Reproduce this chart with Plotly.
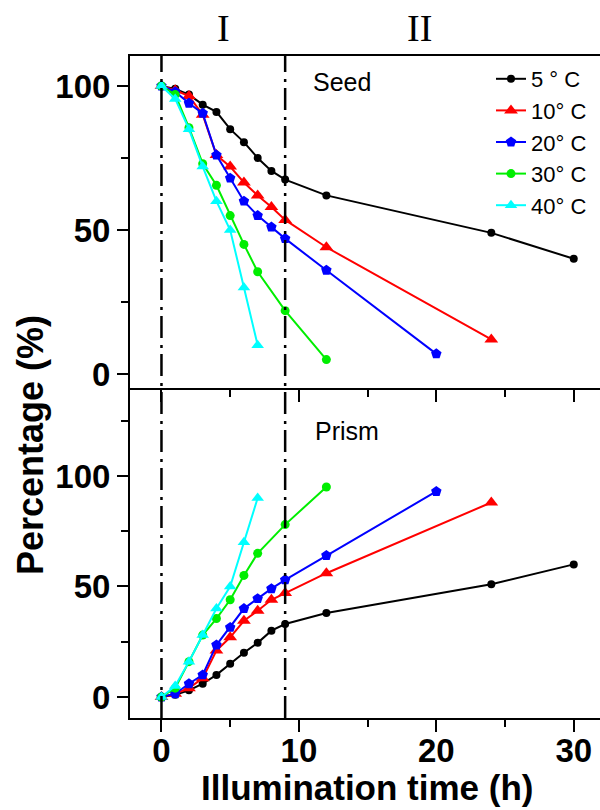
import plotly.graph_objects as go

# ---------------- data ----------------
series_names = ["5 ° C", "10° C", "20° C", "30° C", "40° C"]
colors = ["#000000", "#ff0000", "#0000ff", "#00ee00", "#00ffff"]
symbols = ["circle", "triangle-up", "pentagon", "circle", "triangle-up"]
marker_sizes = [8, 12, 11, 9, 11]

t_5 = [0, 1, 2, 3, 4, 5, 6, 7, 8, 9, 12, 24, 30]
t_10 = [0, 1, 2, 3, 4, 5, 6, 7, 8, 9, 12, 24]
t_20 = [0, 1, 2, 3, 4, 5, 6, 7, 8, 9, 12, 20]
t_30 = [0, 1, 2, 3, 4, 5, 6, 7, 9, 12]
t_40 = [0, 1, 2, 3, 4, 5, 6, 7]

seed_5 = [100, 99, 97, 93.5, 91, 85, 80.5, 75, 70.5, 67.5, 62, 49, 40]
seed_10 = [100, 98.5, 96.5, 90, 76, 72, 66.5, 62, 58, 53.5, 44, 12]
seed_20 = [100, 98, 94, 90.5, 76, 68, 60, 55, 51, 47, 36, 7]
seed_30 = [100, 97, 85.5, 73, 65.5, 55, 45, 35.5, 22, 5]
seed_40 = [100, 95.5, 85, 72, 60, 50, 30, 10]

prism_5 = [0, 1, 3, 6, 10, 15, 20, 24.5, 30, 33, 38, 51, 60]
prism_10 = [0, 1.5, 4, 8.5, 21, 27, 34.5, 39, 44, 47, 56, 88]
prism_20 = [0, 1.5, 6, 10, 23.5, 31.5, 40, 44.5, 49, 53, 64, 93]
prism_30 = [0, 4, 16, 28, 35.5, 44, 55, 65, 78, 95]
prism_40 = [0, 5, 16, 28, 40, 50, 70, 90]

times = [t_5, t_10, t_20, t_30, t_40]
seed = [seed_5, seed_10, seed_20, seed_30, seed_40]
prism = [prism_5, prism_10, prism_20, prism_30, prism_40]

phase_bounds = [0, 9]
phase_labels = ["I", "II"]
x_ticks = [0, 10, 20, 30]
y_ticks = [0, 50, 100]

# ---------------- figure ----------------
W, H = 600, 810
ml, mr, mt, mb = 130, 0, 56, 92
plot_w = W - ml - mr
plot_h = H - mt - mb
split = (718 - 388) / plot_h

fig = go.Figure()
for i in range(5):
    fig.add_trace(go.Scatter(
        x=times[i], y=seed[i], name=series_names[i], mode="lines+markers",
        line=dict(color=colors[i], width=2),
        marker=dict(symbol=symbols[i], size=marker_sizes[i], color=colors[i]),
        xaxis="x2", yaxis="y2", legendgroup=f"g{i}", showlegend=True))
for i in range(5):
    fig.add_trace(go.Scatter(
        x=times[i], y=prism[i], name=series_names[i], mode="lines+markers",
        line=dict(color=colors[i], width=2),
        marker=dict(symbol=symbols[i], size=marker_sizes[i], color=colors[i]),
        xaxis="x", yaxis="y", legendgroup=f"g{i}", showlegend=False))

tickfont = dict(family="Arial, Liberation Sans", size=33, color="black", weight="bold")
xr = [-2.29, 31.91]

common_x = dict(range=xr, showline=True, linecolor="black", linewidth=2,
                ticks="outside", ticklen=12, tickwidth=2, tickcolor="black",
                tickvals=x_ticks, showgrid=False, zeroline=False,
                minor=dict(dtick=5, tick0=0, ticks="outside", ticklen=7,
                           tickwidth=2, tickcolor="black", showgrid=False))
common_y = dict(showline=True, linecolor="black", linewidth=2,
                ticks="outside", ticklen=11, tickwidth=2, tickcolor="black",
                tickvals=y_ticks, showgrid=False, zeroline=False,
                tickfont=tickfont,
                minor=dict(dtick=25, tick0=0, ticks="outside", ticklen=7,
                           tickwidth=2, tickcolor="black", showgrid=False))

fig.update_layout(
    width=W, height=H,
    margin=dict(l=ml, r=mr, t=mt, b=mb),
    paper_bgcolor="white", plot_bgcolor="rgba(0,0,0,0)",
    xaxis=dict(common_x, domain=[0, 1], anchor="y", tickfont=tickfont,
               mirror=False, ticklabelstandoff=-10),
    xaxis2=dict(common_x, domain=[0, 1], anchor="y2", matches="x",
                showticklabels=False, mirror=True, layer="above traces"),
    yaxis=dict(common_y, domain=[0, split], range=[-9.5, 139.8], anchor="x"),
    yaxis2=dict(common_y, domain=[split, 1], range=[-4.86, 110.4], anchor="x2"),
    legend=dict(x=(491 - ml) / plot_w, y=(718 - 58) / plot_h,
                xanchor="left", yanchor="top",
                bgcolor="rgba(0,0,0,0)", tracegroupgap=0,
                font=dict(family="Arial, Liberation Sans", size=22, color="black")),
    showlegend=True,
)

# phase boundaries (dash-dot)
for xb in phase_bounds:
    fig.add_shape(type="line", xref="x", yref="paper", x0=xb, x1=xb, y0=0, y1=1,
                  line=dict(color="black", width=2.5, dash="22px,6px,3px,7px"))

def px_x(p):
    return (p - ml) / plot_w

def px_y(p):
    return (H - mb - p) / plot_h

ann_font = dict(family="Arial, Liberation Sans", size=25, color="black")
fig.add_annotation(text="Seed", x=px_x(342), y=px_y(82), xref="paper", yref="paper",
                   showarrow=False, font=ann_font, xanchor="center", yanchor="middle")
fig.add_annotation(text="Prism", x=px_x(347), y=px_y(431), xref="paper", yref="paper",
                   showarrow=False, font=ann_font, xanchor="center", yanchor="middle")

# phase labels
roman_font = dict(family="Liberation Serif, Times New Roman", size=38, color="black")
fig.add_annotation(text=phase_labels[0], x=px_x(223), y=px_y(28), xref="paper", yref="paper",
                   showarrow=False, font=roman_font, xanchor="center", yanchor="middle")
fig.add_annotation(text=phase_labels[1], x=px_x(419), y=px_y(28), xref="paper", yref="paper",
                   showarrow=False, font=roman_font, xanchor="center", yanchor="middle")

# axis titles
fig.add_annotation(text="Illumination time (h)", x=px_x(367), y=px_y(788),
                   xref="paper", yref="paper", showarrow=False,
                   font=dict(family="Arial, Liberation Sans", size=35, color="black", weight="bold"),
                   xanchor="center", yanchor="middle")
fig.add_annotation(text="Percentage (%)", x=px_x(30), y=px_y(445),
                   xref="paper", yref="paper", showarrow=False, textangle=-90,
                   font=dict(family="Arial, Liberation Sans", size=36, color="black", weight="bold"),
                   xanchor="center", yanchor="middle")

fig.write_html("out.html")
